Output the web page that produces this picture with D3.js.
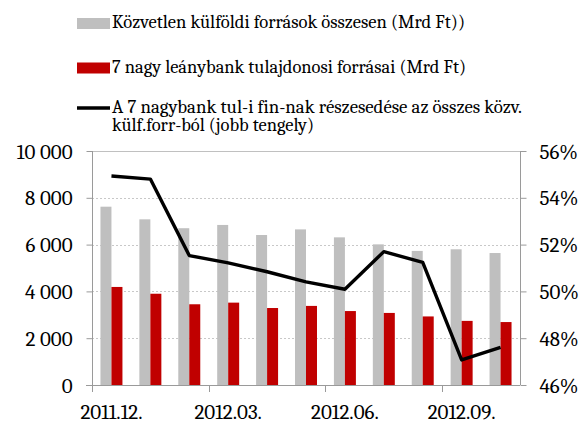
<!DOCTYPE html>
<html>
<head>
<meta charset="utf-8">
<script src="https://cdn.jsdelivr.net/npm/d3@7"></script>
<style>
  body { margin: 0; background: #fff; }
</style>
</head>
<body>
<div id="chart"></div>
<script>
// havi adatok
const months = ["2011.12.", "2012.01.", "2012.02.", "2012.03.", "2012.04.", "2012.05.",
                "2012.06.", "2012.07.", "2012.08.", "2012.09.", "2012.10."];
const totalFdi = [7620, 7080, 6700, 6840, 6410, 6650, 6310, 6010, 5730, 5800, 5640];
const bankFunds = [4190, 3900, 3450, 3520, 3290, 3380, 3160, 3080, 2930, 2740, 2690];
const bankShare = [54.93, 54.80, 51.53, 51.22, 50.84, 50.41, 50.09, 51.70, 51.24, 47.07, 47.61];
const leftTicks = [0, 2000, 4000, 6000, 8000, 10000];
const rightTicks = [46, 48, 50, 52, 54, 56];
const xLabelIdx = [0, 3, 6, 9];

const legendItems = [
  { type: "bar", color: "#bfbfbf", text: ["Közvetlen külföldi források összesen (Mrd Ft))"] },
  { type: "bar", color: "#c00000", text: ["7 nagy leánybank tulajdonosi forrásai (Mrd Ft)"] },
  { type: "line", color: "#000", text: ["A 7 nagybank tul-i fin-nak részesedése az összes közv.", "külf.forr-ból (jobb tengely)"] }
];

const FONT = "Cambria, 'Liberation Serif', serif";
const width = 586, height = 424;
const plot = { left: 92, right: 520, top: 151, bottom: 385 };

const svg = d3.select("#chart").append("svg")
    .attr("width", width)
    .attr("height", height);

const x = d3.scaleBand().domain(months).range([plot.left, plot.right]);
const xSub = d3.scaleBand().domain(["total", "bank"]).range([0, x.bandwidth()]).paddingOuter(0.77);
const y = d3.scaleLinear().domain([0, 10000]).range([plot.bottom, plot.top]);
const y2 = d3.scaleLinear().domain([46, 56]).range([plot.bottom, plot.top]);

const fmt = d3.formatLocale({ decimal: ",", thousands: " ", grouping: [3], currency: ["", ""] }).format(",d");

// rácsvonalak
svg.append("g")
  .selectAll("line")
  .data(leftTicks.filter(d => d > 0 && d < 10000))
  .join("line")
    .attr("x1", plot.left).attr("x2", plot.right)
    .attr("y1", d => Math.round(y(d)) + 0.5).attr("y2", d => Math.round(y(d)) + 0.5)
    .attr("stroke", "#c8c8c8")
    .attr("stroke-dasharray", "2,2");

svg.append("line")
    .attr("x1", plot.left).attr("x2", plot.right)
    .attr("y1", y(10000) + 0.5).attr("y2", y(10000) + 0.5)
    .attr("stroke", "#c0c0c0");

// oszlopok
const groups = svg.append("g")
  .selectAll("g")
  .data(months)
  .join("g")
    .attr("transform", d => `translate(${x(d)},0)`);

groups.append("rect")
    .attr("x", (d, i) => xSub("total"))
    .attr("width", xSub.bandwidth())
    .attr("y", (d, i) => y(totalFdi[i]))
    .attr("height", (d, i) => y(0) - y(totalFdi[i]))
    .attr("fill", "#bfbfbf");

groups.append("rect")
    .attr("x", (d, i) => xSub("bank"))
    .attr("width", xSub.bandwidth())
    .attr("y", (d, i) => y(bankFunds[i]))
    .attr("height", (d, i) => y(0) - y(bankFunds[i]))
    .attr("fill", "#c00000");

// tengelyek
const axisColor = "#9a9a9a";

const leftAxis = svg.append("g")
    .attr("transform", `translate(${plot.left + 0.5},0)`)
    .call(d3.axisLeft(y).tickValues(leftTicks).tickFormat(fmt).tickSize(6).tickPadding(14));
const rightAxis = svg.append("g")
    .attr("transform", `translate(${plot.right + 0.5},0)`)
    .call(d3.axisRight(y2).tickValues(rightTicks).tickFormat(d => d + "%").tickSize(6).tickPadding(13));

[leftAxis, rightAxis].forEach(a => {
  a.select(".domain").remove();
  a.selectAll(".tick line").attr("stroke", axisColor);
  a.selectAll("text")
      .attr("fill", "#000")
      .attr("dy", "0.34em")
      .style("font-size", "21px")
      .style("font-family", FONT);
});
svg.append("line")
    .attr("x1", plot.left + 0.5).attr("x2", plot.left + 0.5)
    .attr("y1", plot.top).attr("y2", plot.bottom)
    .attr("stroke", axisColor);
svg.append("line")
    .attr("x1", plot.right + 0.5).attr("x2", plot.right + 0.5)
    .attr("y1", plot.top).attr("y2", plot.bottom)
    .attr("stroke", axisColor);

// vízszintes tengely
svg.append("line")
    .attr("x1", plot.left - 6).attr("x2", plot.right)
    .attr("y1", plot.bottom + 0.5).attr("y2", plot.bottom + 0.5)
    .attr("stroke", axisColor);

const xTicks = svg.append("g");
xTicks.selectAll("line")
  .data(xLabelIdx)
  .join("line")
    .attr("x1", i => Math.round(x(months[i])) + 0.5)
    .attr("x2", i => Math.round(x(months[i])) + 0.5)
    .attr("y1", plot.bottom).attr("y2", plot.bottom + 7)
    .attr("stroke", axisColor);
xTicks.selectAll("text")
  .data(xLabelIdx)
  .join("text")
    .attr("x", i => x(months[i]) + x.bandwidth() / 2)
    .attr("y", 419)
    .attr("text-anchor", "middle")
    .style("font-size", "21px")
    .style("font-family", FONT)
    .text(i => months[i]);

// vonal
const line = d3.line()
    .x((d, i) => x(months[i]) + x.bandwidth() / 2)
    .y(d => y2(d));

svg.append("path")
    .datum(bankShare)
    .attr("d", line)
    .attr("fill", "none")
    .attr("stroke", "#000")
    .attr("stroke-width", 3.4)
    .attr("stroke-linejoin", "round");

// jelmagyarázat
const legendY = [23.5, 68, 108];
const legendWidths = [[353], [354], [410, 202]];
const legend = svg.append("g");
legendItems.forEach((item, k) => {
  const g = legend.append("g").attr("transform", `translate(77,${legendY[k]})`);
  if (item.type === "bar") {
    g.append("rect").attr("x", 0).attr("y", -5.5).attr("width", 33).attr("height", 11).attr("fill", item.color);
  } else {
    g.append("line").attr("x1", 0).attr("x2", 33).attr("y1", 0).attr("y2", 0)
      .attr("stroke", item.color).attr("stroke-width", 3.4);
  }
  item.text.forEach((t, j) => {
    g.append("text")
      .attr("x", 35)
      .attr("y", j * 18.5 + 4.5)
      .attr("textLength", legendWidths[k][j])
      .attr("lengthAdjust", "spacingAndGlyphs")
      .style("font-size", "18px")
      .style("font-family", FONT)
      .text(t);
  });
});
</script>
</body>
</html>
